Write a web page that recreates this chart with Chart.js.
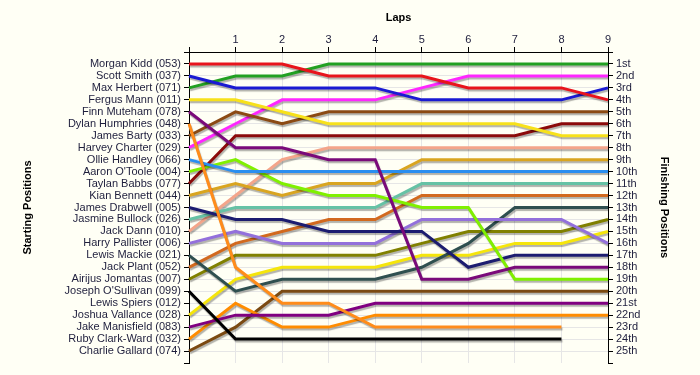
<!DOCTYPE html>
<html>
<head>
<meta charset="utf-8">
<title>Lap chart</title>
<script src="https://cdn.jsdelivr.net/npm/chart.js@4.4.1/dist/chart.umd.min.js"></script>
<style>
  html, body { margin: 0; padding: 0; background: #fffff5; }
  #lapChart { display: block; }
</style>
</head>
<body>
<canvas id="lapChart" width="700" height="375"></canvas>
<script>
// laps on the top axis
const laps = [0, 1, 2, 3, 4, 5, 6, 7, 8, 9];

// drivers in grid order (starting position 1..25)
const drivers = [
  "Morgan Kidd (053)", "Scott Smith (037)", "Max Herbert (071)", "Fergus Mann (011)",
  "Finn Muteham (078)", "Dylan Humphries (048)", "James Barty (033)", "Harvey Charter (029)",
  "Ollie Handley (066)", "Aaron O'Toole (004)", "Taylan Babbs (077)", "Kian Bennett (044)",
  "James Drabwell (005)", "Jasmine Bullock (026)", "Jack Dann (010)", "Harry Pallister (006)",
  "Lewis Mackie (021)", "Jack Plant (052)", "Airijus Jomantas (007)", "Joseph O'Sullivan (099)",
  "Lewis Spiers (012)", "Joshua Vallance (028)", "Jake Manisfield (083)", "Ruby Clark-Ward (032)",
  "Charlie Gallard (074)"
];

// position of each driver at lap 0..9 (null = no longer running)
const lapPositions = [
  [1, 1, 1, 2, 2, 2, 3, 3, 3, 4],
  [2, 3, 3, 3, 3, 4, 4, 4, 4, 3],
  [3, 2, 2, 1, 1, 1, 1, 1, 1, 1],
  [4, 4, 5, 6, 6, 6, 6, 6, 7, 7],
  [5, 8, 8, 9, 9, 19, 19, 18, 18, 18],
  [6, 18, 21, 21, 23, 23, 23, 23, 23, null],
  [7, 5, 6, 5, 5, 5, 5, 5, 5, 5],
  [8, 6, 4, 4, 4, 3, 2, 2, 2, 2],
  [9, 10, 10, 10, 10, 10, 10, 10, 10, 10],
  [10, 9, 11, 12, 12, 13, 13, 19, 19, 19],
  [11, 7, 7, 7, 7, 7, 7, 7, 6, 6],
  [12, 11, 12, 11, 11, 9, 9, 9, 9, 9],
  [13, 14, 14, 15, 15, 15, 18, 17, 17, 17],
  [14, 13, 13, 13, 13, 11, 11, 11, 11, 11],
  [15, 12, 9, 8, 8, 8, 8, 8, 8, 8],
  [16, 15, 16, 16, 16, 14, 14, 14, 14, 16],
  [17, 20, 19, 19, 19, 18, 16, 13, 13, 13],
  [18, 16, 15, 14, 14, 12, 12, 12, 12, 12],
  [19, 17, 17, 17, 17, 16, 15, 15, 15, 14],
  [20, 24, 24, 24, 24, 24, 24, 24, 24, null],
  [],
  [22, 19, 18, 18, 18, 17, 17, 16, 16, 15],
  [23, 22, 22, 22, 21, 21, 21, 21, 21, 21],
  [24, 21, 23, 23, 22, 22, 22, 22, 22, 22],
  [25, 23, 20, 20, 20, 20, 20, 20, 20, 20]
];

const finishLabels = [
  "1st", "2nd", "3rd", "4th", "5th", "6th", "7th", "8th", "9th", "10th",
  "11th", "12th", "13th", "14th", "15th", "16th", "17th", "18th", "19th", "20th",
  "21st", "22nd", "23rd", "24th", "25th"
];

const lineColors = [
  "#e8141c", "#1a1ad2", "#22a022", "#f7e11a", "#7a0a7a", "#ff8c1a", "#8b4a13", "#ff26ff",
  "#2a8ef0", "#80f000", "#8b0a0a", "#d9a520", "#1c1c70", "#66c2a5", "#f4a58a", "#9370db",
  "#2f4f4f", "#d2691e", "#808000", "#000000", "#999999", "#f5e50a", "#800080", "#ff8c00",
  "#7b4a12"
];

const textColor = "#1e1e3c";
const gridColor = "#e6e6e6";

// soft drop shadow under every line
const lineShadow = {
  id: "lineShadow",
  beforeDatasetsDraw(chart) {
    const c = chart.ctx;
    c.save();
    c.shadowColor = "rgba(0, 0, 0, 0.3)";
    c.shadowOffsetX = 1;
    c.shadowOffsetY = 2;
    c.shadowBlur = 1;
  },
  afterDatasetsDraw(chart) {
    chart.ctx.restore();
  }
};

const ctx = document.getElementById("lapChart").getContext("2d");
new Chart(ctx, {
  type: "line",
  data: {
    labels: laps,
    datasets: drivers.map((name, i) => ({
      label: name,
      data: lapPositions[i],
      borderColor: lineColors[i],
      backgroundColor: lineColors[i],
      borderWidth: 3,
      pointRadius: 0,
      tension: 0,
      fill: false,
      yAxisID: "y"
    }))
  },
  options: {
    responsive: false,
    animation: false,
    layout: { padding: { left: 0, right: 0, top: 0, bottom: 12 } },
    font: { family: "'Liberation Sans', Arial, sans-serif", size: 11 },
    scales: {
      x: {
        position: "top",
        offset: false,
        afterFit: (s) => { s.height = 52; },
        title: {
          display: true,
          text: "Laps",
          color: "#000",
          font: { weight: "bold", size: 11 },
          padding: { top: 11, bottom: 0 }
        },
        ticks: {
          color: textColor,
          font: { size: 11 },
          padding: 0,
          maxRotation: 0,
          autoSkip: false,
          callback: (v, i) => (i === 0 ? "" : laps[i])
        },
        grid: { color: gridColor, tickColor: "#000", tickLength: 5 },
        border: { color: "#000", width: 1 }
      },
      y: {
        type: "linear",
        position: "left",
        min: 0,
        max: 26,
        reverse: true,
        afterFit: (s) => { s.width = 189; },
        title: {
          display: true,
          text: "Starting Positions",
          color: "#000",
          font: { weight: "bold", size: 11 },
          padding: { top: 21, bottom: 0 }
        },
        ticks: {
          stepSize: 1,
          autoSkip: false,
          color: textColor,
          font: { size: 11 },
          padding: 3,
          callback: (v) => (v >= 1 && v <= 25 ? drivers[v - 1] : "")
        },
        grid: {
          color: (c) => (c.tick && c.tick.value === 26 ? "rgba(0,0,0,0)" : gridColor),
          tickColor: "#000",
          tickLength: 5
        },
        border: { color: "#000", width: 1 }
      },
      y2: {
        type: "linear",
        position: "right",
        min: 0,
        max: 26,
        reverse: true,
        afterFit: (s) => { s.width = 92; },
        title: {
          display: true,
          text: "Finishing Positions",
          color: "#000",
          font: { weight: "bold", size: 11 },
          padding: { top: 29, bottom: 0 }
        },
        ticks: {
          stepSize: 1,
          autoSkip: false,
          color: textColor,
          font: { size: 11 },
          padding: 3,
          callback: (v) => (v >= 1 && v <= 25 ? finishLabels[v - 1] : "")
        },
        grid: { drawOnChartArea: false, tickColor: "#000", tickLength: 5 },
        border: { color: "#000", width: 1 }
      }
    },
    plugins: {
      legend: { display: false },
      tooltip: { enabled: false }
    }
  },
  plugins: [lineShadow]
});
</script>
</body>
</html>
